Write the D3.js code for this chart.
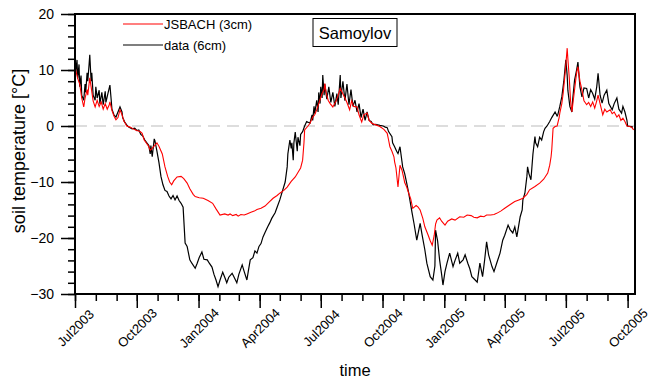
<!DOCTYPE html>
<html lang="en">
<head>
  <meta charset="UTF-8"/>
  <title>Samoylov soil temperature</title>
  <script src="https://d3js.org/d3.v7.min.js"></script>
  <style>
    body { margin: 0; background: #fff; }
    text { font-family: "Liberation Sans", Arial, Helvetica, sans-serif; }
  </style>
</head>
<body>
<script>

// days since 2003-07-01 and soil temperature
var dataDay = [0,1,3,4,6,7,9,10,13,15,16,18,19,21,22,24,25,27,30,31,33,36,37,40,42,45,46,49,52,54,55,58,61,64,67,70,71,74,77,80,85,89,92,95,98,101,104,107,110,112,113,115,118,119,122,125,128,131,134,137,140,143,146,149,152,155,158,161,164,167,171,174,179,182,185,189,192,197,200,204,207,210,213,216,220,223,226,229,234,237,241,244,249,252,256,258,261,265,268,271,274,277,280,283,287,290,293,298,301,305,308,313,316,317,320,322,323,325,326,328,331,332,335,336,339,342,345,350,353,354,356,357,360,362,363,365,366,368,369,371,372,375,378,381,384,387,390,392,395,396,399,402,405,408,411,414,417,420,423,426,429,432,435,438,441,444,448,454,459,462,465,467,472,473,476,479,481,484,488,491,494,497,502,505,509,514,517,521,524,529,533,536,537,540,543,546,548,551,554,558,563,566,570,573,578,581,585,588,591,596,599,603,607,610,613,616,621,624,628,633,637,640,645,648,652,655,658,663,666,667,670,673,674,676,679,682,685,686,689,692,695,698,700,703,707,710,715,718,719,722,725,728,731,733,734,737,740,741,744,747,749,752,755,758,762,765,768,771,774,777,779,782,785,788,792,795,800,803,807,810,814,816,819,822,823,828,831];
var dataTemp = [13.6,9.5,11.8,8.5,11.0,7.0,9.0,5.5,4.6,7.5,6.0,9.5,8.0,11.0,12.7,8.0,9.5,5.5,4.6,7.0,5.0,6.4,4.0,6.0,3.8,6.2,4.2,5.8,7.3,4.5,3.0,2.0,1.6,2.5,3.4,2.5,1.5,0.7,0.2,-0.2,-0.5,-0.4,-0.8,-0.7,-1.5,-1.8,-2.5,-3.0,-3.5,-5.0,-3.5,-5.5,-2.3,-2.6,-4.5,-6.5,-9.0,-10.5,-11.5,-11.7,-12.5,-13.0,-12.4,-13.2,-12.5,-13.3,-13.8,-14.5,-20.9,-21.5,-23.9,-24.5,-25.4,-24.5,-23.5,-22.5,-23.8,-23.9,-24.5,-25.2,-26.5,-27.5,-28.7,-27.5,-26.1,-27.0,-28.0,-27.0,-26.3,-27.0,-28.0,-26.5,-24.8,-26.0,-27.5,-26.0,-23.9,-23.5,-22.3,-22.7,-21.5,-21.0,-19.8,-19.0,-18.0,-17.3,-16.5,-15.5,-14.5,-13.2,-12.0,-10.0,-7.3,-5.0,-2.5,-4.0,-3.0,-6.1,-3.0,-1.1,-4.5,-2.0,-3.5,-1.5,-1.0,0.0,0.8,0.5,2.0,1.0,3.5,2.2,4.6,2.5,6.0,4.0,7.0,5.0,9.1,5.5,7.5,4.8,7.0,4.2,6.0,3.5,5.8,3.8,9.1,5.0,8.0,4.5,7.5,3.8,6.5,3.5,4.6,2.5,4.0,1.5,3.0,1.0,2.5,1.0,0.8,0.2,0.3,0.1,0.0,-0.2,-0.3,-1.0,-1.9,-3.0,-3.7,-4.5,-4.9,-3.7,-7.3,-8.5,-10.2,-12.0,-15.5,-17.5,-20.4,-17.4,-19.5,-22.1,-24.5,-26.9,-27.5,-25.0,-18.6,-20.5,-23.9,-26.5,-28.4,-26.0,-24.5,-22.7,-25.1,-24.0,-22.7,-24.5,-23.9,-23.0,-24.5,-25.5,-26.9,-27.5,-27.9,-24.5,-26.9,-24.0,-20.7,-23.0,-25.1,-26.0,-24.5,-22.7,-20.4,-19.5,-17.7,-18.5,-19.1,-18.0,-19.8,-16.2,-15.0,-13.2,-12.0,-9.0,-7.3,-8.5,-9.6,-5.0,-1.9,-3.0,-3.7,-2.0,-2.5,-1.0,-0.4,0.0,0.8,1.5,2.5,1.8,2.0,3.5,5.2,8.0,11.8,9.0,6.4,3.5,2.5,4.5,8.2,10.0,11.4,7.0,5.2,6.8,6.7,5.0,6.5,5.8,4.8,7.0,9.4,5.5,4.1,5.5,6.4,4.0,2.9,4.0,5.0,3.0,2.3,3.5,2.5,1.0,0.0,-0.1,-0.2];

var jsbachDay = [0,1,4,7,10,13,15,18,19,22,24,27,30,33,36,39,42,45,48,51,52,55,58,61,64,67,70,73,74,77,82,88,92,97,100,103,106,109,112,115,119,122,125,130,134,138,141,144,147,152,158,162,167,171,176,179,185,191,198,205,210,216,223,228,231,235,240,243,247,252,256,262,267,271,277,283,289,295,301,305,311,316,322,328,332,336,339,341,342,347,350,354,357,360,363,368,371,372,374,377,380,384,389,392,395,398,402,405,409,412,415,420,423,427,430,435,438,442,448,454,460,465,467,469,472,475,476,478,481,484,487,490,491,494,497,500,503,508,511,514,518,521,526,529,532,535,537,539,543,546,551,555,561,566,573,579,584,590,594,599,604,609,613,619,624,628,634,640,646,651,655,661,667,673,677,685,692,698,704,707,709,710,712,715,718,721,722,725,727,730,733,734,736,738,740,743,746,747,749,752,755,758,762,765,768,771,774,777,779,782,786,789,792,797,800,803,807,810,813,816,819,822,826,829,832];
var jsbachTemp = [11.2,10.0,8.5,7.5,5.0,3.4,5.0,6.5,5.5,8.6,7.0,4.5,3.4,4.6,3.5,4.3,3.0,4.0,3.0,3.8,4.3,2.8,1.8,1.1,1.5,2.9,2.0,0.8,0.7,0.0,-0.2,-0.6,-0.8,-1.0,-1.3,-2.5,-3.0,-3.5,-4.3,-4.0,-3.4,-3.0,-3.6,-5.0,-7.3,-9.0,-10.0,-10.5,-9.8,-9.1,-9.0,-9.4,-10.2,-11.2,-12.2,-12.6,-12.8,-12.9,-13.3,-13.8,-14.8,-15.9,-15.7,-15.9,-15.7,-16.0,-15.8,-16.1,-15.8,-15.9,-15.7,-15.4,-15.2,-14.9,-14.7,-14.3,-13.6,-12.9,-12.4,-12.0,-11.5,-10.9,-9.9,-9.1,-8.3,-7.5,-6.1,-3.0,-0.7,0.0,0.5,1.6,2.0,2.9,4.0,5.8,6.5,7.6,6.0,4.6,4.0,3.4,4.5,5.5,6.7,6.0,5.0,4.2,2.9,4.5,3.5,3.4,2.0,0.7,2.0,2.3,1.0,0.5,0.2,-0.1,-0.6,-1.3,-2.5,-3.7,-4.5,-5.5,-6.4,-7.5,-10.9,-7.0,-7.9,-9.5,-10.1,-10.9,-12.0,-13.0,-14.7,-14.2,-14.5,-15.0,-16.5,-18.0,-19.5,-20.5,-21.3,-19.5,-17.5,-16.8,-16.4,-17.0,-17.7,-17.0,-16.6,-16.8,-16.2,-16.3,-15.9,-16.0,-16.3,-16.4,-16.1,-16.2,-15.9,-15.9,-15.8,-15.6,-15.2,-14.7,-14.2,-13.8,-13.5,-13.2,-12.9,-12.2,-11.4,-10.8,-10.2,-9.5,-8.4,-7.0,-5.5,-4.3,-0.4,-0.1,0.0,1.5,2.3,4.0,5.8,9.5,13.9,12.0,8.8,4.5,2.5,5.5,8.5,9.4,10.6,8.0,6.4,4.5,3.8,4.2,3.5,4.3,3.2,4.5,5.5,4.0,2.0,3.0,2.5,2.9,2.2,2.5,1.6,2.0,1.0,1.4,0.8,0.0,-0.1,-0.2,-0.7];

var yMajor = [-30, -20, -10, 0, 10, 20];
var legendLabels = ["JSBACH (3cm)", "data (6cm)"];
var legendColors = ["#ff0000", "#000000"];

var w = 650;
var h = 382;
var plotLeft = 75, plotRight = 635, plotTop = 14, plotBottom = 294;

var start = new Date(2003, 6, 1);
var end = new Date(2005, 9, 12);

var xScale = d3.scaleTime()
  .domain([start, end])
  .range([plotLeft, plotRight]);

var yScale = d3.scaleLinear()
  .domain([-30, 20])
  .range([plotBottom, plotTop]);

var svg = d3.select("body")
  .append("svg")
  .attr("width", w)
  .attr("height", h);

// zero line
svg.append("line")
  .attr("x1", plotLeft).attr("x2", plotRight)
  .attr("y1", yScale(0)).attr("y2", yScale(0))
  .attr("stroke", "#bbbbbb")
  .attr("stroke-width", 1)
  .attr("stroke-dasharray", "12,7");

function toPoints(days, temps) {
  return days.map(function(d, i) {
    return { date: d3.timeDay.offset(start, d), t: temps[i] };
  });
}

var line = d3.line()
  .x(function(d) { return xScale(d.date); })
  .y(function(d) { return yScale(d.t); });

svg.append("path")
  .datum(toPoints(dataDay, dataTemp))
  .attr("d", line)
  .attr("fill", "none")
  .attr("stroke", "#000")
  .attr("stroke-width", 1.2);

svg.append("path")
  .datum(toPoints(jsbachDay, jsbachTemp))
  .attr("d", line)
  .attr("fill", "none")
  .attr("stroke", "#ff0000")
  .attr("stroke-width", 1.1);

// axes
var months = d3.timeMonth.range(start, end);
var quarters = months.filter(function(d) { return d.getMonth() % 3 === 0; });
var fmt = d3.timeFormat("%b%Y");

svg.append("g")
  .attr("transform", "translate(0," + plotBottom + ")")
  .call(d3.axisBottom(xScale).tickValues(months).tickSize(7).tickFormat(""));

var xMajorG = svg.append("g")
  .attr("transform", "translate(0," + plotBottom + ")")
  .call(d3.axisBottom(xScale).tickValues(quarters).tickSize(14).tickFormat(fmt));

xMajorG.selectAll("text")
  .attr("y", 0)
  .attr("dy", "0.35em")
  .attr("text-anchor", "middle")
  .attr("transform", "translate(0,34) rotate(-45)");

svg.append("g")
  .attr("transform", "translate(" + plotLeft + ",0)")
  .call(d3.axisLeft(yScale).tickValues(d3.range(-30, 21, 2)).tickSize(7).tickFormat(""));

var yMajorG = svg.append("g")
  .attr("transform", "translate(" + plotLeft + ",0)")
  .call(d3.axisLeft(yScale).tickValues(yMajor).tickSize(14).tickPadding(7));

svg.selectAll(".domain").remove();
svg.selectAll(".tick line").attr("stroke", "#000").attr("stroke-width", 1.5);
xMajorG.selectAll("text").attr("font-size", 13).attr("fill", "#000");
yMajorG.selectAll("text").attr("font-size", 14).attr("fill", "#000");

// frame
svg.append("rect")
  .attr("x", plotLeft).attr("y", plotTop)
  .attr("width", plotRight - plotLeft).attr("height", plotBottom - plotTop)
  .attr("fill", "none")
  .attr("stroke", "#000")
  .attr("stroke-width", 2);

// titles
svg.append("text")
  .attr("x", 355).attr("y", 376)
  .attr("text-anchor", "middle")
  .attr("font-size", 16.5)
  .text("time");

svg.append("text")
  .attr("transform", "translate(25,151) rotate(-90)")
  .attr("text-anchor", "middle")
  .attr("font-size", 18)
  .text("soil temperature [°C]");

// legend
legendLabels.forEach(function(lab, i) {
  var ly = 24 + i * 21;
  svg.append("line")
    .attr("x1", 123).attr("x2", 163)
    .attr("y1", ly).attr("y2", ly)
    .attr("stroke", legendColors[i])
    .attr("stroke-width", 1.2);
  svg.append("text")
    .attr("x", 164).attr("y", ly + 4.5)
    .attr("font-size", 13)
    .text(lab);
});

// station box
svg.append("rect")
  .attr("x", 313).attr("y", 18.5)
  .attr("width", 84).attr("height", 28)
  .attr("fill", "#fff")
  .attr("stroke", "#000")
  .attr("stroke-width", 1);

svg.append("text")
  .attr("x", 355).attr("y", 38.5)
  .attr("text-anchor", "middle")
  .attr("font-size", 16.5)
  .text("Samoylov");

</script>
</body>
</html>
